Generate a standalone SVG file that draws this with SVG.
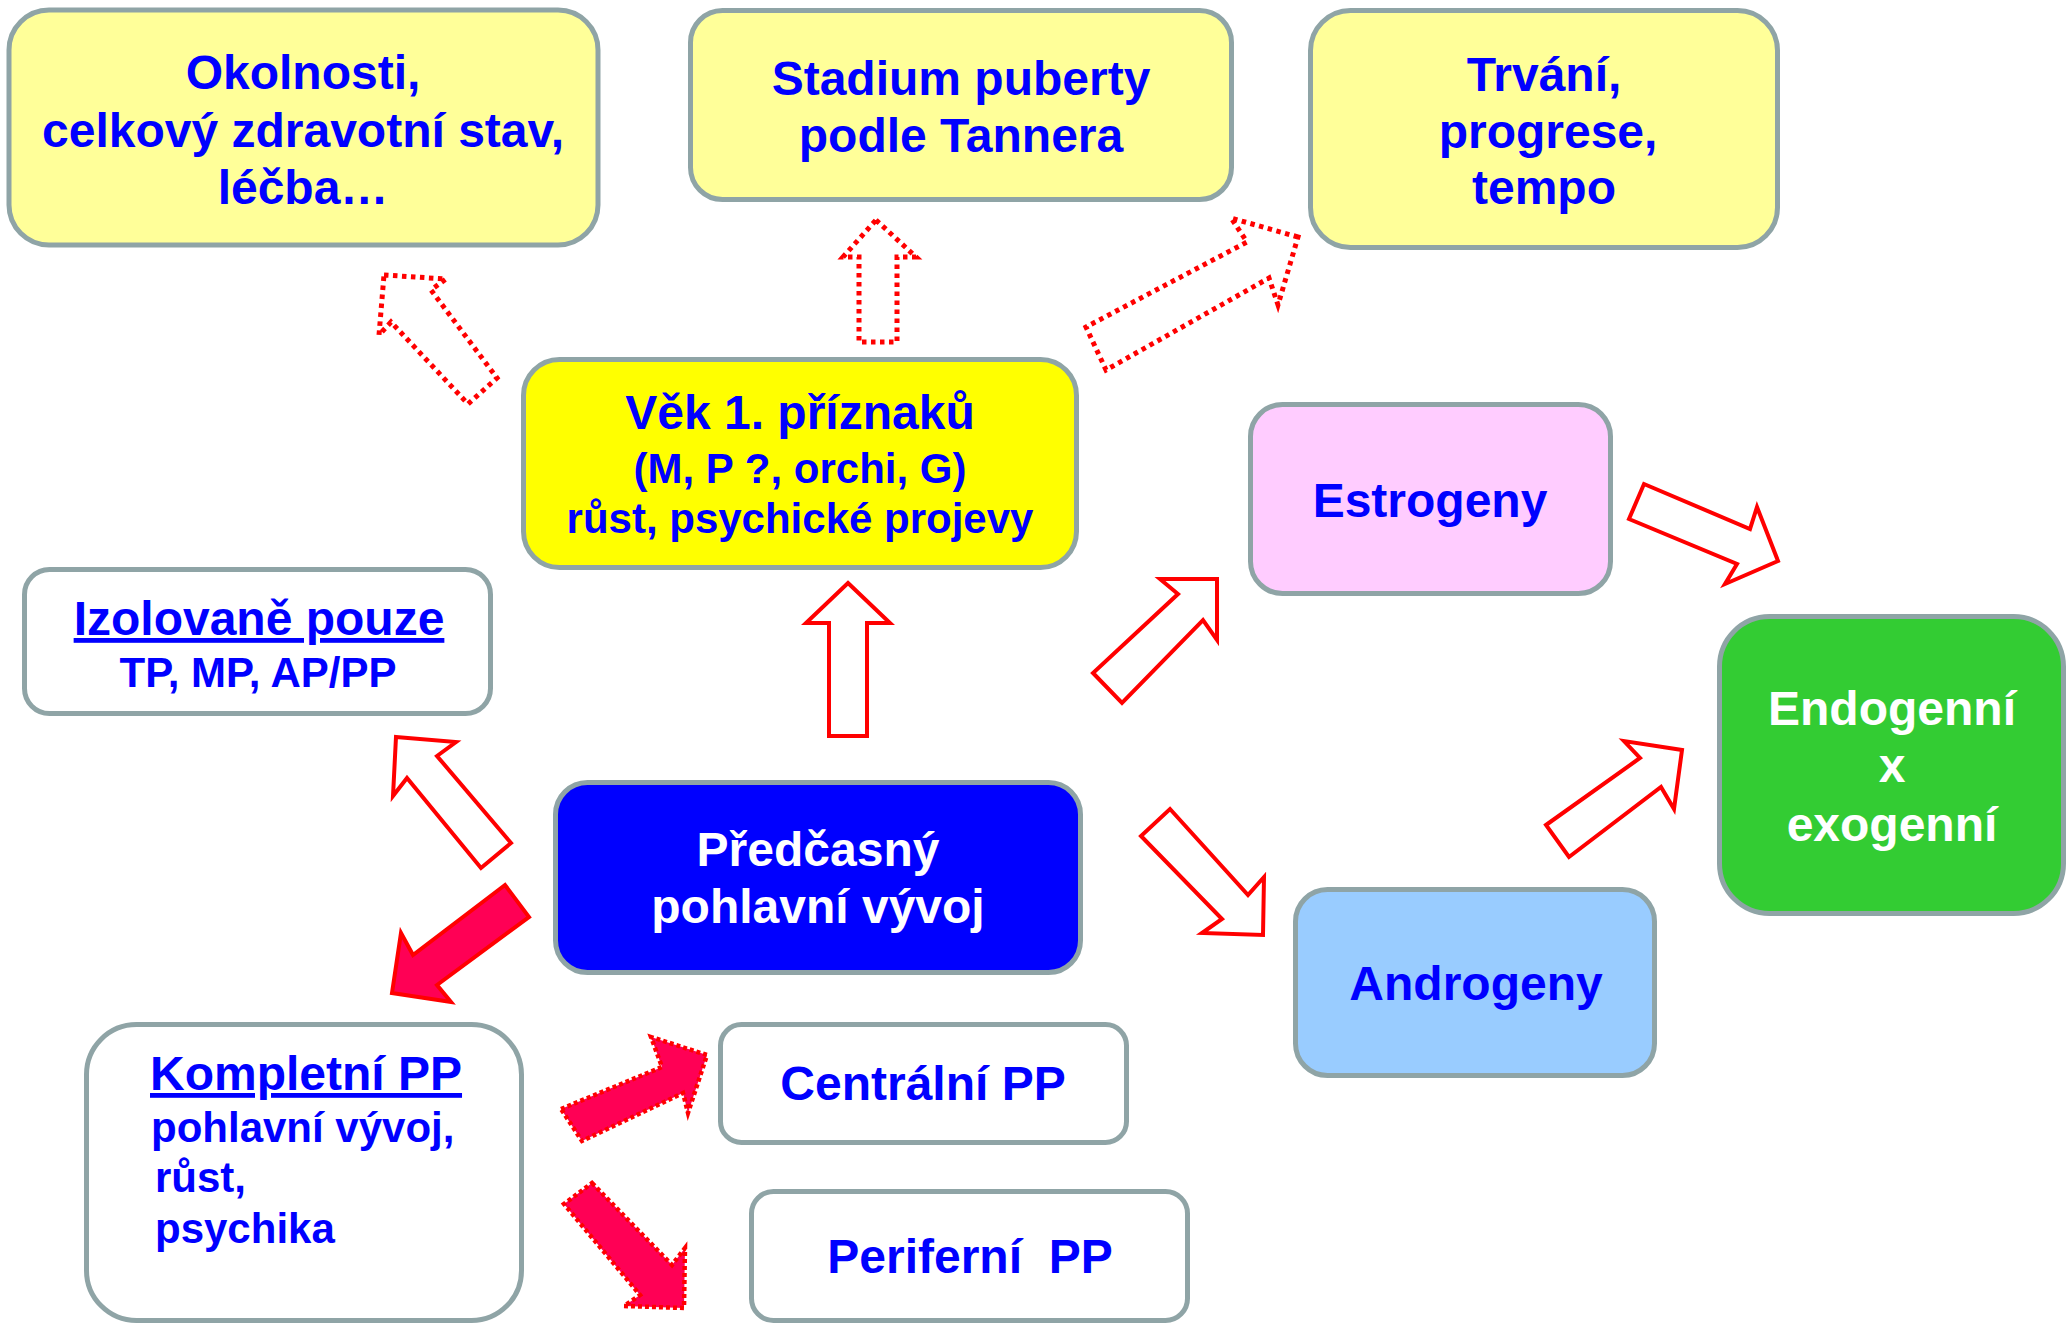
<svg xmlns="http://www.w3.org/2000/svg" width="2069" height="1326" viewBox="0 0 2069 1326">
<style>
  .box { stroke: #8FA4A6; stroke-width: 5; }
  .lightyellow { fill: #FFFF99; }
  .t { font-family: "Liberation Sans", Arial, sans-serif; font-weight: bold; fill: #0000FF; text-anchor: middle; }
  .tl { font-family: "Liberation Sans", Arial, sans-serif; font-weight: bold; fill: #0000FF; text-anchor: start; }
  .w { fill: #FFFFFF; }
  .s48 { font-size: 48px; }
  .s42 { font-size: 42px; }
  .hollow { fill: #FFFFFF; stroke: #FF0000; stroke-width: 4; stroke-linejoin: miter; }
  .dotted { fill: #FFFFFF; stroke: #FF0000; stroke-width: 5; stroke-dasharray: 4.5 4.5; }
  .filled { fill: #FF0055; stroke: #FF0000; stroke-width: 4; }
  .filleddot { fill: #FF0055; stroke: #FF0000; stroke-width: 4.5; stroke-dasharray: 4 3; }
</style>
<rect x="0" y="0" width="2069" height="1326" fill="#FFFFFF"/>

<g id="connectors">
  <polygon class="dotted" points="384,275 446,279 431,290 497,378 468,404 391,322 379,335"/>
  <polygon class="dotted" points="876,220 916,257 897,257 897,342 859,342 859,257 843,257"/>
  <polygon class="dotted" points="1298,237 1231,218 1247,242 1086,327 1106,370 1269,278 1278,305"/>
  <polygon class="hollow" points="848,583 890,623 867,623 867,736 829,736 829,623 806,623"/>
  <polygon class="hollow" points="1217,579 1160,579 1178,594 1093,673 1122,703 1203,620 1217,640"/>
  <polygon class="hollow" points="1644,484 1750,529 1757,507 1778,561 1725,584 1737,564 1629,519"/>
  <polygon class="hollow" points="1546,825 1640,758 1624,741 1682,750 1674,809 1661,787 1569,857"/>
  <polygon class="hollow" points="1170,809 1248,895 1264,877 1263,935 1202,933 1222,919 1141,836"/>
  <polygon class="hollow" points="396,737 456,742 437,756 511,843 481,868 407,778 393,796"/>
  <polygon class="filled" points="505,885 413,955 401,933 392,993 451,1002 437,985 529,917"/>
  <polygon class="filleddot" points="561,1109 662,1067 651,1037 707,1055 688,1113 683,1093 582,1141"/>
  <polygon class="filleddot" points="592,1183 672,1265 685,1248 684,1308 624,1306 640,1295 564,1204"/>
</g>

<g id="node-okolnosti">
  <rect class="box lightyellow" x="9" y="10" width="589" height="235" rx="40" ry="40"/>
  <text class="t s48" x="303" y="89">Okolnosti,</text>
  <text class="t s48" x="303" y="147">celkový zdravotní stav,</text>
  <text class="t s48" x="303" y="204">léčba…</text>
</g>

<g id="node-stadium">
  <rect class="box lightyellow" x="690.5" y="10.5" width="541" height="189" rx="32" ry="32"/>
  <text class="t s48" x="961" y="95">Stadium puberty</text>
  <text class="t s48" x="961" y="152">podle Tannera</text>
</g>

<g id="node-trvani">
  <rect class="box lightyellow" x="1310.5" y="10.5" width="467" height="237" rx="40" ry="40"/>
  <text class="t s48" x="1544" y="91">Trvání,</text>
  <text class="t s48" x="1548" y="148">progrese,</text>
  <text class="t s48" x="1544" y="204">tempo</text>
</g>

<g id="node-vek">
  <rect class="box" fill="#FFFF00" x="523.5" y="359.5" width="553" height="208" rx="36" ry="36"/>
  <text class="t s48" x="800" y="429">Věk 1. příznaků</text>
  <text class="t s42" x="800" y="483">(M, P ?, orchi, G)</text>
  <text class="t s42" x="800" y="533">růst, psychické projevy</text>
</g>

<g id="node-estrogeny">
  <rect class="box" fill="#FFCCFF" x="1250.5" y="404.5" width="360" height="189" rx="32" ry="32"/>
  <text class="t s48" x="1430" y="517">Estrogeny</text>
</g>

<g id="node-endogenni">
  <rect class="box" fill="#33CC33" x="1719.5" y="616.5" width="344" height="297" rx="50" ry="50"/>
  <text class="t s48 w" x="1892" y="725">Endogenní</text>
  <text class="t s48 w" x="1892" y="782">x</text>
  <text class="t s48 w" x="1892" y="841">exogenní</text>
</g>

<g id="node-androgeny">
  <rect class="box" fill="#99CCFF" x="1295.5" y="889.5" width="359" height="186" rx="32" ry="32"/>
  <text class="t s48" x="1476" y="1000">Androgeny</text>
</g>

<g id="node-izolovane">
  <rect class="box" fill="#FFFFFF" x="24.5" y="569.5" width="466" height="144" rx="25" ry="25"/>
  <text class="t s48" x="259" y="635" text-decoration="underline">Izolovaně pouze</text>
  <text class="t s42" x="258" y="687">TP, MP, AP/PP</text>
</g>

<g id="node-predcasny">
  <rect class="box" fill="#0000FF" x="555.5" y="782.5" width="525" height="190" rx="32" ry="32"/>
  <text class="t s48 w" x="818" y="866">Předčasný</text>
  <text class="t s48 w" x="818" y="923">pohlavní vývoj</text>
</g>

<g id="node-kompletni">
  <rect class="box" fill="#FFFFFF" x="86.5" y="1024.5" width="435" height="296" rx="50" ry="50"/>
  <text class="tl s48" x="150" y="1090" text-decoration="underline">Kompletní PP</text>
  <text class="tl s42" x="151" y="1142">pohlavní vývoj,</text>
  <text class="tl s42" x="155" y="1192">růst,</text>
  <text class="tl s42" x="155" y="1243">psychika</text>
</g>

<g id="node-centralni">
  <rect class="box" fill="#FFFFFF" x="720.5" y="1024.5" width="406" height="118" rx="21" ry="21"/>
  <text class="t s48" x="923" y="1100">Centrální PP</text>
</g>

<g id="node-periferni">
  <rect class="box" fill="#FFFFFF" x="751.5" y="1191.5" width="436" height="129" rx="22" ry="22"/>
  <text class="t s48" x="970" y="1273" style="white-space:pre">Periferní  PP</text>
</g>
</svg>
